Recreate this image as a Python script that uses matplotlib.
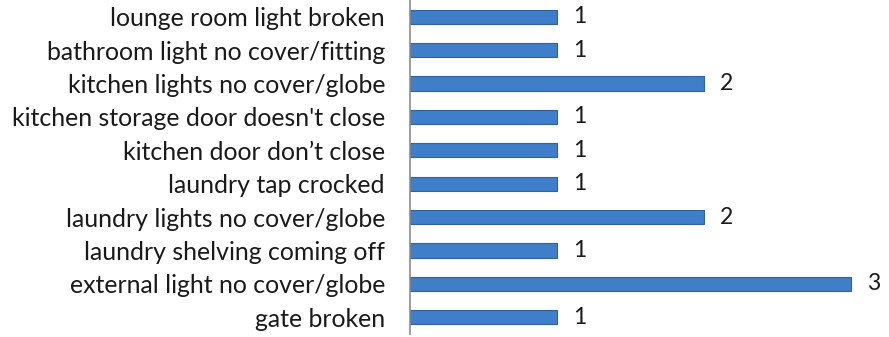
import matplotlib.pyplot as plt

# categories listed top to bottom as in the chart
issues = [
    "lounge room light broken",
    "bathroom light no cover/fitting",
    "kitchen lights no cover/globe",
    "kitchen storage door doesn't close",
    "kitchen door don\u2019t close",
    "laundry tap crocked",
    "laundry lights no cover/globe",
    "laundry shelving coming off",
    "external light no cover/globe",
    "gate broken",
]
counts = [1, 1, 2, 1, 1, 1, 2, 1, 3, 1]

plt.rcParams["font.family"] = ["Lato", "DejaVu Sans"]

fig = plt.figure(figsize=(8.89, 3.37), dpi=100)
ax = fig.add_axes([410 / 889, 3 / 337, 478 / 889, 334 / 337])

pos = list(range(len(issues)))[::-1]
ax.barh(pos, counts, height=0.43, color="#3f7ec8", edgecolor="#31629e", linewidth=0.8)

for p, c in zip(pos, counts):
    ax.text(c + 0.11, p, str(c), va="center", ha="left", fontsize=16.5, color="#1a1a1a")

ax.set_yticks(pos)
ax.set_yticklabels(issues, fontsize=17.9, color="#1a1a1a")
ax.tick_params(axis="y", length=0, pad=18)
ax.set_xticks([])
ax.set_xlim(0, 3.25)
ax.set_ylim(-0.5, 9.5)

for s in ["top", "right", "bottom"]:
    ax.spines[s].set_visible(False)
ax.spines["left"].set_color("#8c8c8c")
ax.spines["left"].set_linewidth(1.2)

fig.savefig("out.png", dpi=100)
